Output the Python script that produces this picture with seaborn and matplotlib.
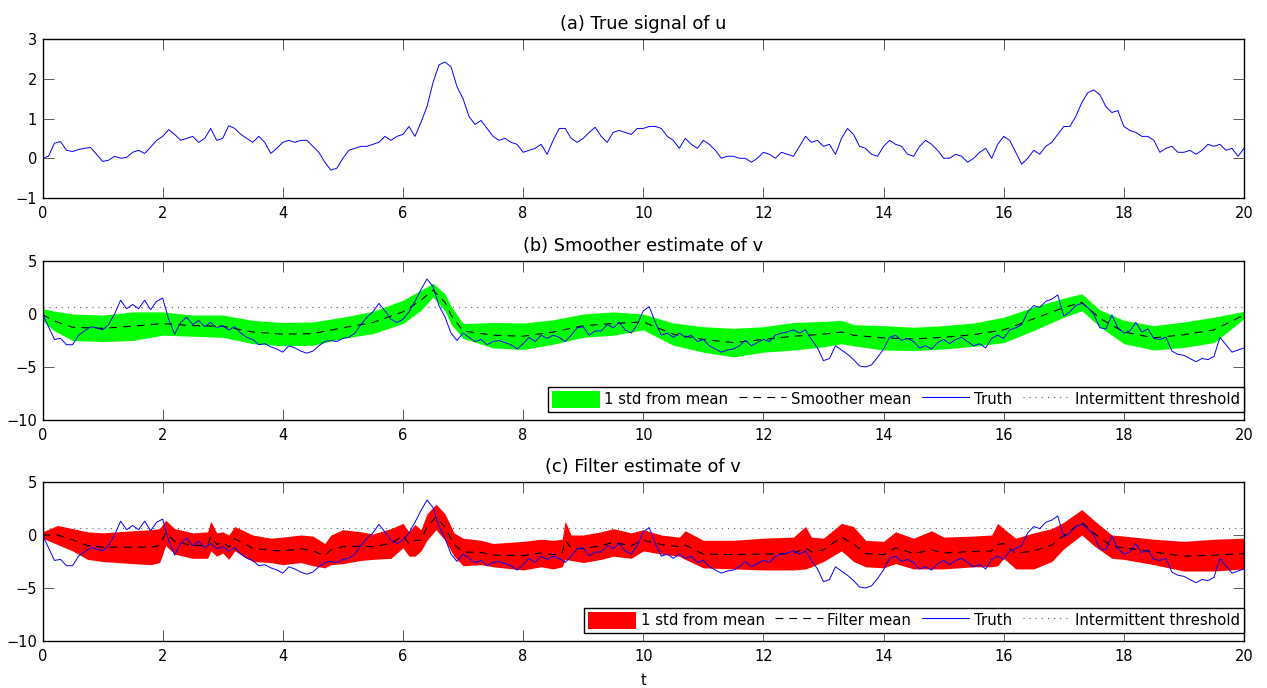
import numpy as np
import pandas as pd
import matplotlib
matplotlib.use("Agg")
import matplotlib.pyplot as plt
import seaborn as sns
from matplotlib.patches import Patch
from matplotlib.lines import Line2D

# ---------------- data ----------------
t_grid = np.round(np.arange(201) * 0.1, 1)

u_true = [0.0, 0.05, 0.38, 0.42, 0.2, 0.17, 0.22, 0.25, 0.27, 0.1,
          -0.08, -0.05, 0.05, 0.0, 0.02, 0.15, 0.2, 0.12, 0.28, 0.45,
          0.55, 0.72, 0.6, 0.45, 0.5, 0.55, 0.4, 0.5, 0.75, 0.45,
          0.5, 0.82, 0.75, 0.6, 0.5, 0.4, 0.55, 0.4, 0.12, 0.25,
          0.4, 0.45, 0.4, 0.45, 0.45, 0.3, 0.15, -0.1, -0.3, -0.25,
          0.0, 0.2, 0.25, 0.3, 0.3, 0.35, 0.4, 0.55, 0.45, 0.55,
          0.6, 0.8, 0.55, 0.9, 1.3, 1.9, 2.35, 2.42, 2.3, 1.8,
          1.5, 1.05, 0.85, 0.95, 0.75, 0.55, 0.45, 0.5, 0.4, 0.35,
          0.15, 0.2, 0.25, 0.35, 0.1, 0.45, 0.75, 0.75, 0.5, 0.4,
          0.5, 0.65, 0.78, 0.55, 0.4, 0.65, 0.7, 0.65, 0.6, 0.75,
          0.75, 0.8, 0.8, 0.75, 0.55, 0.45, 0.25, 0.5, 0.35, 0.25,
          0.45, 0.35, 0.2, 0.0, 0.05, 0.05, 0.0, 0.0, -0.1, 0.0,
          0.15, 0.1, 0.0, 0.15, 0.1, 0.05, 0.3, 0.55, 0.4, 0.45,
          0.3, 0.35, 0.1, 0.5, 0.75, 0.6, 0.3, 0.25, 0.1, 0.05,
          0.3, 0.45, 0.35, 0.3, 0.1, 0.05, 0.3, 0.45, 0.35, 0.2,
          0.0, 0.0, 0.1, 0.05, -0.1, 0.0, 0.15, 0.25, 0.0, 0.35,
          0.55, 0.45, 0.15, -0.15, 0.0, 0.2, 0.1, 0.3, 0.4, 0.6,
          0.8, 0.8, 1.05, 1.4, 1.65, 1.72, 1.6, 1.3, 1.15, 1.2,
          0.8, 0.7, 0.65, 0.55, 0.55, 0.45, 0.15, 0.25, 0.3, 0.15,
          0.15, 0.2, 0.1, 0.2, 0.35, 0.3, 0.35, 0.2, 0.25, 0.05,
          0.25]

v_true = [0.0, -1.2, -2.4, -2.3, -2.9, -2.9, -2.0, -1.6, -1.2, -1.3,
          -1.5, -1.0, 0.0, 1.3, 0.5, 0.9, 0.5, 1.3, 0.4, 1.2,
          1.5, -0.5, -1.9, -0.8, -0.3, -1.0, -0.6, -1.2, -0.8, -1.3,
          -1.1, -1.5, -1.2, -1.8, -2.2, -2.4, -2.9, -2.8, -3.1, -3.3,
          -3.6, -3.0, -3.2, -3.5, -3.7, -3.5, -3.0, -2.6, -2.5, -2.6,
          -2.3, -2.2, -1.8, -1.0, -0.3, 0.2, 1.0, 0.3, -0.5, -0.8,
          -0.5, 0.2, 1.2, 2.3, 3.3, 2.6, 0.8, -0.3, -1.8, -2.5,
          -1.8, -2.2, -2.6, -2.4, -2.9, -2.6, -2.5, -2.7, -2.9, -3.3,
          -2.8, -2.2, -2.6, -2.0, -2.3, -2.0, -2.2, -2.6, -2.0, -1.3,
          -1.2, -2.0, -1.6, -1.6, -1.0, -1.3, -0.8, -1.5, -1.8, -1.0,
          0.3, 0.7, -0.8, -2.0, -1.8, -2.2, -1.8, -2.2, -2.0, -2.6,
          -2.4, -3.0, -3.3, -3.6, -3.4, -3.3, -3.0, -2.5, -3.0, -2.7,
          -2.4, -2.6, -2.0, -1.8, -1.7, -1.5, -1.8, -1.5, -2.4, -3.2,
          -4.4, -4.2, -3.0, -3.4, -3.8, -4.3, -4.9, -5.0, -4.8, -4.1,
          -3.3, -2.2, -2.0, -2.5, -2.3, -2.6, -3.2, -3.0, -3.3, -2.7,
          -2.4, -2.8, -2.4, -2.2, -2.6, -3.0, -2.8, -3.2, -2.3, -2.0,
          -2.3, -1.5, -1.3, -1.0, 0.2, 0.8, 0.6, 1.2, 1.4, 1.8,
          -0.2, 0.2, 0.8, 1.0, 0.6, 0.0, -1.3, -1.4, -0.1, -1.3,
          -1.8, -1.6, -0.8, -1.7, -1.4, -2.3, -2.4, -2.2, -3.5, -3.8,
          -3.9, -4.2, -4.5, -4.2, -4.3, -4.0, -2.2, -2.9, -3.6, -3.4,
          -3.2]

smooth_t = [0, 0.17, 0.5, 1.0, 1.5, 2.0, 2.5, 3.0, 3.5, 4.0, 4.5, 5.0, 5.5, 6.0,
            6.3, 6.5, 6.7, 6.8, 7.0, 7.5, 8.0, 8.5, 9.0, 9.5, 10.0, 10.5, 11.0,
            11.5, 12.0, 12.5, 13.0, 13.3, 13.5, 14.0, 14.5, 15.0, 15.5, 16.0,
            16.5, 17.0, 17.3, 17.6, 18.0, 18.5, 19.0, 19.5, 20.0]
smooth_mean = [-0.05, -0.6, -1.25, -1.35, -1.15, -0.9, -1.1, -1.15, -1.7, -1.9, -1.85,
               -1.3, -0.8, 0.2, 1.3, 2.25, 1.1, -0.1, -1.6, -2.0, -2.1, -1.7, -1.1,
               -0.9, -0.75, -1.9, -2.4, -2.7, -2.4, -2.1, -1.9, -1.7, -2.0, -2.25,
               -2.35, -2.2, -1.95, -1.5, -0.45, 0.6, 1.1, -0.4, -1.7, -2.25, -1.95,
               -1.5, -0.1]
smooth_std = [0.55, 0.9, 1.25, 1.25, 1.35, 1.1, 1.0, 1.05, 1.1, 1.1, 1.1, 1.0, 1.05,
              1.1, 0.95, 0.65, 0.8, 0.85, 0.7, 1.2, 1.25, 1.15, 1.1, 1.1, 0.75, 1.05,
              1.2, 1.35, 1.2, 1.3, 1.2, 1.1, 1.0, 1.15, 1.1, 1.1, 1.1, 1.2, 1.1, 0.9,
              0.8, 0.8, 1.1, 1.15, 1.2, 1.2, 0.35]

filter_t = [0.0, 0.25, 0.5, 0.75, 1.0, 1.5, 1.8, 1.95, 2.05, 2.2, 2.5, 2.75, 2.8, 2.9,
            3.0, 3.1, 3.2, 3.5, 3.8, 4.0, 4.3, 4.5, 4.7, 4.8, 5.0, 5.3, 5.5, 5.8,
            6.0, 6.1, 6.2, 6.3, 6.4, 6.55, 6.7, 6.85, 7.0, 7.3, 7.5, 8.0, 8.3, 8.5,
            8.65, 8.7, 8.8, 9.0, 9.3, 9.5, 9.8, 10.0, 10.3, 10.6, 10.7, 11.0, 11.5,
            12.0, 12.5, 12.7, 12.8, 13.0, 13.3, 13.5, 13.7, 14.0, 14.2, 14.5, 14.8,
            15.0, 15.5, 15.8, 15.9, 16.0, 16.2, 16.5, 16.8, 17.0, 17.3, 17.5, 17.8,
            18.0, 18.5, 19.0, 19.5, 20.0]
filter_mean = [0.0, 0.0, -0.45, -1.0, -1.15, -1.15, -1.15, -1.0, 0.2, -0.6, -1.0, -0.95,
               -0.1, -0.9, -0.7, -1.15, -0.35, -1.25, -1.45, -1.5, -1.3, -1.5, -1.95,
               -1.4, -1.1, -1.05, -1.1, -0.8, -0.05, -0.85, -0.5, -0.5, 0.75, 1.7, 0.75,
               -0.9, -1.6, -1.65, -1.9, -1.95, -1.7, -1.85, -1.7, -0.5, -1.2, -1.3, -1.0,
               -0.7, -1.0, -0.5, -0.9, -1.1, -0.95, -1.8, -1.85, -1.8, -1.75, -1.2, -1.6,
               -1.4, -0.2, -0.85, -1.75, -1.85, -1.2, -1.75, -1.4, -1.7, -1.55, -1.5,
               -0.9, -0.8, -1.75, -1.5, -0.95, -0.05, 1.2, 0.2, -1.1, -1.2, -1.6, -2.0,
               -1.9, -1.75]
filter_std = [0.3, 0.9, 1.05, 1.3, 1.35, 1.55, 1.65, 1.6, 1.2, 1.2, 1.2, 1.25, 1.4, 1.1,
              1.0, 1.15, 1.15, 1.25, 1.15, 1.3, 1.3, 1.4, 1.15, 1.4, 1.6, 1.35, 1.2, 1.4,
              1.15, 1.15, 1.5, 1.0, 1.25, 1.2, 1.25, 1.1, 1.3, 1.15, 1.1, 1.35, 1.3,
              1.35, 1.3, 1.8, 1.2, 1.3, 1.3, 1.3, 1.2, 1.0, 0.9, 0.9, 1.35, 1.3, 1.35,
              1.5, 1.55, 2.0, 1.4, 1.1, 1.3, 1.65, 1.25, 1.25, 1.5, 1.45, 1.8, 1.5, 1.45,
              1.5, 2.0, 1.4, 1.45, 1.7, 1.55, 1.25, 1.2, 1.2, 1.1, 1.1, 1.2, 1.4, 1.5,
              1.45]

threshold = 0.65

titles = ["(a) True signal of u", "(b) Smoother estimate of v", "(c) Filter estimate of v"]
xticks = [0, 2, 4, 6, 8, 10, 12, 14, 16, 18, 20]
yticks_a = [-1, 0, 1, 2, 3]
yticks_v = [-10, -5, 0, 5]

# ---------------- figure ----------------
sns.set_theme(style="white")
plt.rcParams['font.family'] = ['DejaVu Sans']
plt.rcParams['axes.unicode_minus'] = True
plt.rcParams['text.color'] = 'black'
plt.rcParams['axes.labelcolor'] = 'black'

TICK_FS = 10.5
TITLE_FS = 12.8
LEG_FS = 10.7

FW, FH = 1267, 688
fig = plt.figure(figsize=(FW / 100, FH / 100), dpi=100)
L = 42.5 / FW
W = (1244 - 42.5) / FW
H = 159 / FH
axA = fig.add_axes([L, 1 - 198 / FH, W, H])
axB = fig.add_axes([L, 1 - 420 / FH, W, H])
axC = fig.add_axes([L, 1 - 641 / FH, W, H])

GREEN = (0, 1, 0)
RED = (1, 0, 0)
BLUE = (0, 0, 1)
DASH = (0, (7, 5.5))
DOT = (0, (1, 4.5))

df_true = pd.DataFrame({"t": t_grid, "u": u_true, "v": v_true})
df_s = pd.DataFrame({"t": smooth_t, "mean": smooth_mean, "std": smooth_std})
df_f = pd.DataFrame({"t": filter_t, "mean": filter_mean, "std": filter_std})


def style(ax, yticks, ylim, title):
    ax.set_xlim(0, 20)
    ax.set_ylim(*ylim)
    ax.set_xticks(xticks)
    ax.set_yticks(yticks)
    ax.tick_params(axis='both', direction='in', length=8, width=0.6, color='0.25',
                   bottom=True, left=True, top=True, right=True,
                   labelsize=TICK_FS, labelcolor='black')
    ax.tick_params(axis='x', pad=6)
    ax.tick_params(axis='y', pad=4)
    for s in ax.spines.values():
        s.set_visible(True)
        s.set_color('black')
        s.set_linewidth(1.0)
    ax.set_xlabel("")
    ax.set_ylabel("")
    ax.set_title(title, fontsize=TITLE_FS, pad=7, color='black')
    ax.set_facecolor('white')


# (a)
sns.lineplot(data=df_true, x="t", y="u", ax=axA, color=BLUE, lw=0.7,
             estimator=None, sort=False)
style(axA, yticks_a, (-1, 3), titles[0])


def panel(ax, df_est, fillcol, mean_label, title):
    ax.axhline(threshold, color='0.35', lw=0.8, ls=DOT, zorder=1)
    ax.fill_between(df_est["t"], df_est["mean"] - df_est["std"],
                    df_est["mean"] + df_est["std"], color=fillcol, lw=0, zorder=2)
    sns.lineplot(data=df_est, x="t", y="mean", ax=ax, color='black', lw=0.8,
                 linestyle=DASH, estimator=None, sort=False, zorder=3)
    sns.lineplot(data=df_true, x="t", y="v", ax=ax, color=BLUE, lw=0.7,
                 estimator=None, sort=False, zorder=4)
    style(ax, yticks_v, (-10, 5), title)
    handles = [Patch(facecolor=fillcol, edgecolor='none', label='1 std from mean'),
               Line2D([], [], color='black', lw=0.8, ls=DASH, label=mean_label),
               Line2D([], [], color=BLUE, lw=0.8, label='Truth'),
               Line2D([], [], color='0.35', lw=0.8, ls=DOT, label='Intermittent threshold')]
    leg = ax.legend(handles=handles, loc='lower right', bbox_to_anchor=(1.0, 0.05),
                    ncol=4, frameon=True, fancybox=False, edgecolor='black',
                    framealpha=1, fontsize=LEG_FS, handlelength=3.2, handleheight=1.4,
                    handletextpad=0.32, columnspacing=0.7, borderpad=0.28,
                    borderaxespad=0, labelcolor='black')
    leg.get_frame().set_linewidth(1.0)
    leg.set_zorder(10)


panel(axB, df_s, GREEN, 'Smoother mean', titles[1])
panel(axC, df_f, RED, 'Filter mean', titles[2])
axC.set_xlabel("t", fontsize=TICK_FS, labelpad=6, color='black')

fig.savefig("out.png", dpi=100)
